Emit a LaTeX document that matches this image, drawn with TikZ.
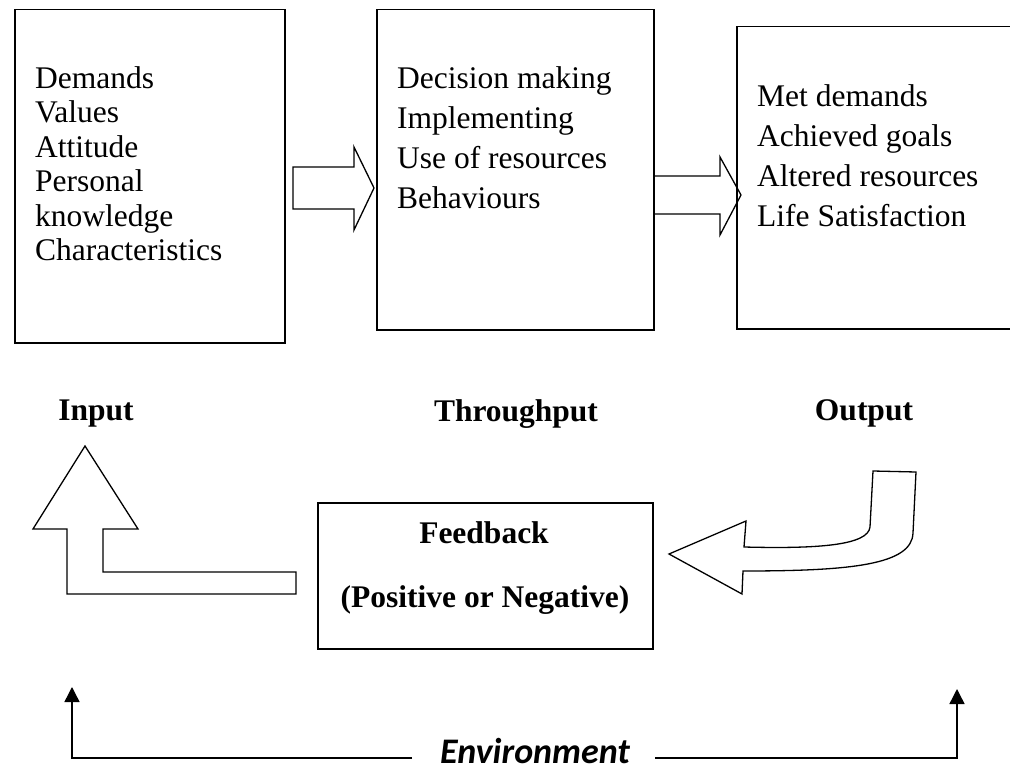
\documentclass[tikz,border=0pt]{standalone}
\usepackage{fontspec}
\setmainfont{Liberation Serif}
\newfontfamily\envfont{Carlito}
\usetikzlibrary{arrows.meta}

\begin{document}
\begin{tikzpicture}[x=1pt,y=-1pt,
    box/.style={draw,line width=1.5pt,anchor=north west,inner sep=0pt},
    boxtext/.style={anchor=north west,inner sep=0pt,align=left,font=\fontsize{31.5}{40}\selectfont},
    steplabel/.style={anchor=base,inner sep=0pt,font=\fontsize{31.5}{38}\selectfont\bfseries},
    blockarrow/.style={draw,line width=1.3pt,line join=miter},
    envarrow/.style={line width=1.4pt,-{Triangle[width=15pt,length=15pt]}}]
    \useasboundingbox (0,0) rectangle (1010,770);
    \clip (0,0) rectangle (1010,770);

    % 三个方框
    \node[box,minimum width=270pt,minimum height=333pt] (inbox) at (14,9) {};
    \node[box,minimum width=277pt,minimum height=320pt] (thrubox) at (376,9) {};
    \node[box,minimum width=300pt,minimum height=302pt] (outbox) at (736,26) {};

    % 方框内文字
    \node[boxtext,font=\fontsize{31.5}{34.4}\selectfont] (intext) at (35,66.5)
        {Demands\\Values\\Attitude\\Personal\\knowledge\\Characteristics};
    \node[boxtext] (thrutext) at (397,66.5)
        {Decision making\\Implementing\\Use of resources\\Behaviours};
    \node[boxtext] (outtext) at (757,84.5)
        {Met demands\\Achieved goals\\Altered resources\\Life Satisfaction};

    % 向右的空心箭头
    \draw[blockarrow] (293,167) -- (354,167) -- (354,147) -- (374,188) -- (354,230) -- (354,209) -- (293,209) -- cycle;
    \draw[blockarrow] (654,176) -- (720,176) -- (720,157) -- (741,195) -- (720,235) -- (720,214) -- (654,214) -- cycle;

    % 标题
    \node[steplabel] (inlabel) at (96,420) {Input};
    \node[steplabel] (thrulabel) at (516,421) {Throughput};
    \node[steplabel] (outlabel) at (864,420) {Output};

    % 反馈方框
    \node[box,minimum width=335pt,minimum height=146pt] (fbbox) at (317,502) {};
    \node[steplabel] (fbtitle) at (484,543) {Feedback};
    \node[steplabel] (fbsign) at (485,607) {(Positive or Negative)};

    % 反馈箭头
    \draw[blockarrow] (85,446) -- (138,529) -- (103,529) -- (103,572) -- (296,572) -- (296,594)
        -- (67,594) -- (67,529) -- (33,529) -- cycle;
    \draw[blockarrow] (669,554) -- (746,521) -- (744,547) .. controls (820,549) and (868,545) .. (870,527)
        -- (873,471) -- (916,472) -- (913,533) .. controls (912,565) and (850,571) .. (743,571)
        -- (742,594) -- cycle;

    % 环境
    \node[anchor=base,inner sep=0pt,font=\envfont\bfseries\itshape\fontsize{36}{40}\selectfont] (envlabel) at (535,763) {Environment};
    \coordinate (envleftend) at (412,758);
    \coordinate (envleftcorner) at (72,758);
    \coordinate (envlefttip) at (72,687);
    \coordinate (envrightend) at (655,758);
    \coordinate (envrightcorner) at (957,758);
    \coordinate (envrighttip) at (957,689);
    \draw[envarrow] (envleftend) -- (envleftcorner) -- (envlefttip);
    \draw[envarrow] (envrightend) -- (envrightcorner) -- (envrighttip);
\end{tikzpicture}
\end{document}
